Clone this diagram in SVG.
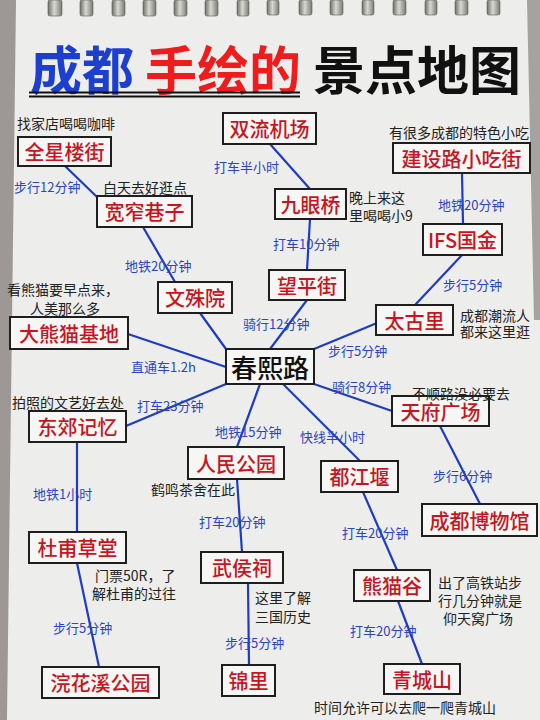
<svg xmlns="http://www.w3.org/2000/svg" width="540" height="720" viewBox="0 0 540 720">
<defs>
<linearGradient id="ring" x1="0" y1="0" x2="1" y2="0">
<stop offset="0" stop-color="#6f6f6a"/>
<stop offset="0.45" stop-color="#d8d8d2"/>
<stop offset="1" stop-color="#7a7a74"/>
</linearGradient>
</defs>
<style>
text{font-family:"Noto Sans CJK SC","Noto Sans",sans-serif}
.box{fill:#f6f6f4;stroke:#1e1e1e;stroke-width:2}
.nt{font-size:20px;font-weight:500;fill:#c8141e;text-anchor:middle;dominant-baseline:central}
.hub{font-size:26px;font-weight:500;fill:#111;text-anchor:middle;dominant-baseline:central}
.lbl{font-size:13px;fill:#2a44c4;dominant-baseline:central}
.note{font-size:14px;fill:#222;dominant-baseline:central}
.edge{stroke:#1f3cc0;stroke-width:2.2;fill:none;stroke-linecap:round}
.rg{fill:url(#ring);stroke:#5c5c58;stroke-width:0.6}
</style>
<rect width="540" height="720" fill="#ededeb"/>
<path d="M0,0 H16 L7,720 H0 Z" fill="#9d9795"/>
<path d="M527,0 H540 V320 H534 Z" fill="#a6a2a0"/>
<g id="rings">
<rect class="rg" x="48" y="0" width="14" height="16" rx="2"/>
<rect class="rg" x="80" y="0" width="13" height="16" rx="2"/>
<rect class="rg" x="112" y="0" width="13" height="16" rx="2"/>
<rect class="rg" x="143" y="0" width="13" height="16" rx="2"/>
<rect class="rg" x="174" y="0" width="13" height="16" rx="2"/>
<rect class="rg" x="205" y="0" width="13" height="16" rx="2"/>
<rect class="rg" x="237" y="0" width="12" height="16" rx="2"/>
<rect class="rg" x="267" y="0" width="12" height="15" rx="2"/>
<rect class="rg" x="299" y="0" width="13" height="15" rx="2"/>
<rect class="rg" x="330" y="0" width="13" height="15" rx="2"/>
<rect class="rg" x="362" y="0" width="12" height="15" rx="2"/>
<rect class="rg" x="393" y="0" width="13" height="15" rx="2"/>
<rect class="rg" x="425" y="0" width="12" height="15" rx="2"/>
<rect class="rg" x="455" y="0" width="13" height="15" rx="2"/>
<rect class="rg" x="487" y="0" width="13" height="15" rx="2"/>
</g>
<g id="title">
<text y="67" font-size="52" font-weight="bold" dominant-baseline="central"><tspan x="30" fill="#1c3fd0">成都</tspan><tspan x="145" fill="#ee1c1c">手绘的</tspan><tspan x="313" fill="#111">景点地图</tspan></text>
<line x1="29" y1="92.5" x2="300" y2="92.5" stroke="#111" stroke-width="1.8"/>
<line x1="29" y1="96.5" x2="300" y2="96.5" stroke="#111" stroke-width="1.8"/>
</g>
<g id="connectors">
<line class="edge" x1="65" y1="166" x2="97" y2="197"/>
<line class="edge" x1="143" y1="227" x2="175" y2="282"/>
<line class="edge" x1="200" y1="313" x2="226" y2="349"/>
<line class="edge" x1="128" y1="334" x2="226" y2="367"/>
<line class="edge" x1="126" y1="426" x2="226" y2="384"/>
<line class="edge" x1="307" y1="300" x2="270" y2="349"/>
<line class="edge" x1="377" y1="323" x2="314" y2="349"/>
<line class="edge" x1="314" y1="384" x2="392" y2="411"/>
<line class="edge" x1="260" y1="384" x2="237" y2="447"/>
<line class="edge" x1="283" y1="384" x2="360" y2="461"/>
<line class="edge" x1="270" y1="144" x2="310" y2="189"/>
<line class="edge" x1="310" y1="219" x2="307" y2="270"/>
<line class="edge" x1="462" y1="173" x2="463" y2="224"/>
<line class="edge" x1="462" y1="255" x2="415" y2="305"/>
<line class="edge" x1="440" y1="426" x2="480" y2="504"/>
<line class="edge" x1="77" y1="442" x2="77" y2="532"/>
<line class="edge" x1="77" y1="563" x2="99" y2="667"/>
<line class="edge" x1="237" y1="479" x2="242" y2="552"/>
<line class="edge" x1="248" y1="583" x2="249" y2="665"/>
<line class="edge" x1="363" y1="492" x2="397" y2="570"/>
<line class="edge" x1="398" y1="601" x2="422" y2="664"/>
</g>
<g id="edge-labels">
<text class="lbl" x="14" y="186">步行12分钟</text>
<text class="lbl" x="125" y="265">地铁20分钟</text>
<text class="lbl" x="131" y="366">直通车1.2h</text>
<text class="lbl" x="137" y="405">打车23分钟</text>
<text class="lbl" x="214" y="166">打车半小时</text>
<text class="lbl" x="273" y="243">打车10分钟</text>
<text class="lbl" x="438" y="204">地铁20分钟</text>
<text class="lbl" x="443" y="284">步行5分钟</text>
<text class="lbl" x="243" y="323">骑行12分钟</text>
<text class="lbl" x="328" y="350">步行5分钟</text>
<text class="lbl" x="332" y="386">骑行8分钟</text>
<text class="lbl" x="215" y="431">地铁15分钟</text>
<text class="lbl" x="300" y="436">快线半小时</text>
<text class="lbl" x="433" y="475">步行6分钟</text>
<text class="lbl" x="342" y="532">打车20分钟</text>
<text class="lbl" x="33" y="493">地铁1小时</text>
<text class="lbl" x="199" y="521">打车20分钟</text>
<text class="lbl" x="53" y="627">步行5分钟</text>
<text class="lbl" x="225" y="642">步行5分钟</text>
<text class="lbl" x="350" y="630">打车20分钟</text>
</g>
<g id="n-quanxinglou"><rect class="box" x="18" y="137" width="93" height="29"/><text class="nt" x="64.5" y="151.5">全星楼街</text><text class="note" x="17" y="123">找家店喝喝咖啡</text></g>
<g id="n-kuanzhai"><rect class="box" x="97" y="196" width="95" height="31"/><text class="nt" x="144.5" y="211.5">宽窄巷子</text><text class="note" x="103" y="187">白天去好逛点</text></g>
<g id="n-shuangliu"><rect class="box" x="223" y="113" width="93" height="31"/><text class="nt" x="269.5" y="128.5">双流机场</text></g>
<g id="n-jiuyanqiao"><rect class="box" x="275" y="189" width="71" height="30"/><text class="nt" x="310.5" y="204">九眼桥</text><text class="note" x="349" y="197">晚上来这</text><text class="note" x="349" y="215">里喝喝小9</text></g>
<g id="n-wangping"><rect class="box" x="269" y="270" width="76" height="30"/><text class="nt" x="307" y="285">望平街</text></g>
<g id="n-jianshelu"><rect class="box" x="393" y="143" width="137" height="30"/><text class="nt" x="461.5" y="158">建设路小吃街</text><text class="note" x="389" y="132">有很多成都的特色小吃</text></g>
<g id="n-ifs"><rect class="box" x="423" y="224" width="79" height="31"/><text class="nt" x="462.5" y="239.5">IFS国金</text></g>
<g id="n-taiguli"><rect class="box" x="376" y="305" width="77" height="30"/><text class="nt" x="414.5" y="320">太古里</text><text class="note" x="460" y="315">成都潮流人</text><text class="note" x="460" y="331">都来这里逛</text></g>
<g id="n-wenshu"><rect class="box" x="158" y="282" width="74" height="31"/><text class="nt" x="195" y="297.5">文殊院</text></g>
<g id="n-panda-base"><rect class="box" x="10" y="317" width="118" height="32"/><text class="nt" x="69" y="333">大熊猫基地</text><text class="note" x="63" y="289" text-anchor="middle">看熊猫要早点来，</text><text class="note" x="65" y="308" text-anchor="middle">人美那么多</text></g>
<g id="n-chunxi"><rect class="box" x="226" y="349" width="88" height="35"/><text class="hub" x="270" y="366.5">春熙路</text></g>
<g id="n-dongjiao"><rect class="box" x="29" y="411" width="97" height="31"/><text class="nt" x="77.5" y="426.5">东郊记忆</text><text class="note" x="12" y="402">拍照的文艺好去处</text></g>
<g id="n-tianfu"><rect class="box" x="392" y="396" width="97" height="30"/><text class="nt" x="440.5" y="411">天府广场</text><text class="note" x="412" y="393">不顺路没必要去</text></g>
<g id="n-renmin"><rect class="box" x="188" y="447" width="96" height="32"/><text class="nt" x="236" y="463">人民公园</text><text class="note" x="151" y="489">鹤鸣茶舍在此</text></g>
<g id="n-dujiangyan"><rect class="box" x="321" y="461" width="77" height="31"/><text class="nt" x="359.5" y="476.5">都江堰</text></g>
<g id="n-museum"><rect class="box" x="422" y="504" width="115" height="32"/><text class="nt" x="479.5" y="520">成都博物馆</text></g>
<g id="n-dufu"><rect class="box" x="29" y="532" width="97" height="31"/><text class="nt" x="77.5" y="547.5">杜甫草堂</text><text class="note" x="95" y="575">门票50R，了</text><text class="note" x="92" y="593">解杜甫的过往</text></g>
<g id="n-wuhou"><rect class="box" x="201" y="552" width="82" height="31"/><text class="nt" x="242" y="567.5">武侯祠</text><text class="note" x="255" y="597">这里了解</text><text class="note" x="255" y="616">三国历史</text></g>
<g id="n-pandavalley"><rect class="box" x="354" y="570" width="76" height="31"/><text class="nt" x="392" y="585.5">熊猫谷</text><text class="note" x="438" y="582">出了高铁站步</text><text class="note" x="438" y="600">行几分钟就是</text><text class="note" x="443" y="618">仰天窝广场</text></g>
<g id="n-huanhuaxi"><rect class="box" x="42" y="667" width="117" height="31"/><text class="nt" x="100.5" y="682.5">浣花溪公园</text></g>
<g id="n-jinli"><rect class="box" x="222" y="665" width="53" height="31"/><text class="nt" x="248.5" y="680.5">锦里</text></g>
<g id="n-qingcheng"><rect class="box" x="384" y="664" width="76" height="30"/><text class="nt" x="422" y="679">青城山</text><text class="note" x="314" y="707">时间允许可以去爬一爬青城山</text></g>
</svg>
